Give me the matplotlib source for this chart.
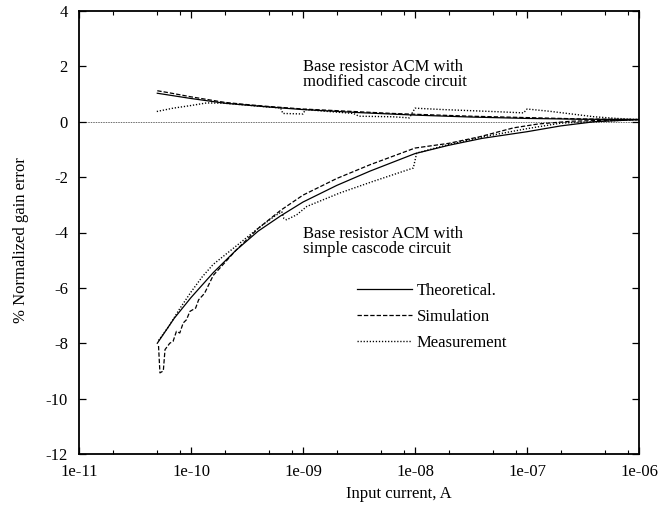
import numpy as np
import matplotlib
matplotlib.use("Agg")
import matplotlib.pyplot as plt
from matplotlib.ticker import FixedLocator, FixedFormatter, NullFormatter

plt.rcParams['font.family'] = ['Liberation Serif', 'DejaVu Serif']
plt.rcParams['axes.unicode_minus'] = False

# ---- data (input current in A, normalized gain error in %) ----
theo_lo_x = [5.0e-11, 7.08e-11, 1.0e-10, 1.58e-10, 2.51e-10, 3.98e-10, 6.31e-10, 1.0e-9,
             2.0e-9, 3.98e-9, 1.0e-8, 2.0e-8, 3.98e-8, 1.0e-7, 2.0e-7, 3.98e-7, 1.0e-6]
theo_lo_y = [-8.0, -7.1, -6.35, -5.45, -4.65, -3.95, -3.4, -2.9,
             -2.3, -1.78, -1.15, -0.85, -0.6, -0.36, -0.15, 0.0, 0.08]

sim_lo_x = [5.13e-11, 5.28e-11, 5.66e-11, 5.86e-11, 6.46e-11, 6.92e-11, 7.41e-11, 7.94e-11,
            8.51e-11, 9.12e-11, 9.77e-11, 1.10e-10, 1.17e-10, 1.32e-10, 1.58e-10, 2.51e-10,
            3.98e-10, 6.31e-10, 1.0e-9, 2.0e-9, 3.98e-9, 1.0e-8, 2.0e-8, 3.80e-8, 7.59e-8,
            1.26e-7, 2.51e-7, 1.0e-6]
sim_lo_y = [-8.1, -9.07, -9.0, -8.23, -8.0, -7.93, -7.57, -7.63,
            -7.27, -7.15, -6.85, -6.73, -6.43, -6.2, -5.55, -4.65,
            -3.85, -3.2, -2.65, -2.05, -1.55, -0.95, -0.78, -0.54, -0.22,
            -0.08, 0.02, 0.08]

meas_lo_x = [5.13e-11, 6.31e-11, 7.94e-11, 1.0e-10, 1.26e-10, 1.58e-10, 2.51e-10, 3.98e-10,
             5.62e-10, 6.46e-10, 6.76e-10, 7.14e-10, 8.79e-10, 1.08e-9, 2.14e-9, 4.25e-9,
             9.66e-9, 1.035e-8, 2.0e-8, 3.98e-8, 1.0e-7, 2.0e-7, 1.0e-6]
meas_lo_y = [-7.9, -7.4, -6.75, -6.15, -5.6, -5.15, -4.5, -3.85,
             -3.4, -3.25, -3.5, -3.54, -3.36, -3.06, -2.57, -2.15,
             -1.67, -1.13, -0.82, -0.55, -0.25, -0.05, 0.08]

theo_up_x = [5.0e-11, 1.0e-10, 2.0e-10, 5.01e-10, 1.0e-9, 3.16e-9, 1.0e-8, 3.16e-8,
             1.0e-7, 3.16e-7, 1.0e-6]
theo_up_y = [1.03, 0.84, 0.67, 0.53, 0.44, 0.33, 0.24, 0.17, 0.12, 0.09, 0.08]

sim_up_x = [5.0e-11, 6.31e-11, 1.0e-10, 2.0e-10, 3.16e-10, 5.01e-10, 1.0e-9, 2.0e-9,
            3.16e-9, 6.31e-9, 1.0e-8, 3.16e-8, 1.0e-7, 3.16e-7, 1.0e-6]
sim_up_y = [1.12, 1.05, 0.9, 0.7, 0.62, 0.55, 0.46, 0.4,
            0.36, 0.3, 0.27, 0.2, 0.15, 0.1, 0.08]

meas_up_x = [4.95e-11, 6.92e-11, 9.77e-11, 1.38e-10, 1.95e-10, 3.16e-10, 5.01e-10, 6.31e-10,
             6.61e-10, 1.0e-9, 1.05e-9, 1.58e-9, 2.82e-9, 3.16e-9, 6.31e-9, 8.91e-9,
             1.0e-8, 1.78e-8, 3.16e-8, 5.62e-8, 9.33e-8, 1.0e-7, 1.58e-7, 2.51e-7,
             3.98e-7, 6.31e-7, 1.0e-6]
meas_up_y = [0.37, 0.49, 0.58, 0.68, 0.67, 0.6, 0.53, 0.5,
             0.3, 0.28, 0.44, 0.38, 0.3, 0.2, 0.18, 0.14,
             0.49, 0.44, 0.4, 0.36, 0.32, 0.46, 0.38, 0.28,
             0.18, 0.12, 0.08]

x_ticks = [1e-11, 1e-10, 1e-9, 1e-8, 1e-7, 1e-6]
x_tick_labels = ['1e-11', '1e-10', '1e-09', '1e-08', '1e-07', '1e-06']
y_ticks = [-12, -10, -8, -6, -4, -2, 0, 2, 4]
y_tick_labels = ['-12', '-10', '-8', '-6', '-4', '-2', '0', '2', '4']

legend_labels = ['Theoretical.', 'Simulation', 'Measurement']
upper_note = 'Base resistor ACM with\nmodified cascode circuit'
lower_note = 'Base resistor ACM with\nsimple cascode circuit'

# ---- figure ----
fig = plt.figure(figsize=(6.59, 5.05), dpi=100)
ax = fig.add_axes([79/659, 1-454/505, 560/659, 443/505])

lw = 0.9
dash = (0, (3.5, 1.6))
dot = (0, (0.9, 1.3))

ax.axhline(0, color='black', lw=0.6, ls=(0, (0.8, 1.2)))

l1, = ax.plot(theo_lo_x, theo_lo_y, color='black', lw=lw, ls='-')
l2, = ax.plot(sim_lo_x, sim_lo_y, color='black', lw=lw, ls=dash)
l3, = ax.plot(meas_lo_x, meas_lo_y, color='black', lw=1.0, ls=dot)
ax.plot(theo_up_x, theo_up_y, color='black', lw=lw, ls='-')
ax.plot(sim_up_x, sim_up_y, color='black', lw=lw, ls=dash)
ax.plot(meas_up_x, meas_up_y, color='black', lw=1.0, ls=dot)

ax.set_xscale('log')
ax.set_xlim(1e-11, 1e-6)
ax.set_ylim(-12, 4)

ax.xaxis.set_major_locator(FixedLocator(x_ticks))
ax.xaxis.set_major_formatter(FixedFormatter(x_tick_labels))
minor = [m * d for d in [1e-11, 1e-10, 1e-9, 1e-8, 1e-7] for m in (2, 5, 8)]
ax.xaxis.set_minor_locator(FixedLocator(minor))
ax.xaxis.set_minor_formatter(NullFormatter())
ax.yaxis.set_major_locator(FixedLocator(y_ticks))
ax.yaxis.set_major_formatter(FixedFormatter(y_tick_labels))

ax.tick_params(which='major', direction='in', length=5, width=0.9, top=True, right=True,
               labelsize=12, pad=7)
ax.tick_params(which='minor', direction='in', length=3, width=0.8, top=True, right=True)
ax.tick_params(axis='y', pad=8)
for s in ax.spines.values():
    s.set_linewidth(1.3)

fs = 12
ax.text(1e-9, 1.30, upper_note, fontsize=fs, va='baseline', ha='left', linespacing=0.88)
ax.text(1e-9, -4.73, lower_note, fontsize=fs, va='baseline', ha='left', linespacing=0.88)

ax.legend([l1, l2, l3], legend_labels, loc='center left', bbox_to_anchor=(0.496, 0.309),
          frameon=False, fontsize=fs, handlelength=3.3, handletextpad=0.3,
          labelspacing=0.6, borderpad=0, borderaxespad=0)

fig.text(399/659, 1-494/505, 'Input current, A', fontsize=fs, ha='center', va='center')
fig.text(21/659, 1-240/505, '% Normalized gain error', fontsize=fs, ha='center',
         va='center', rotation=90)

fig.savefig('out.png', dpi=100)
